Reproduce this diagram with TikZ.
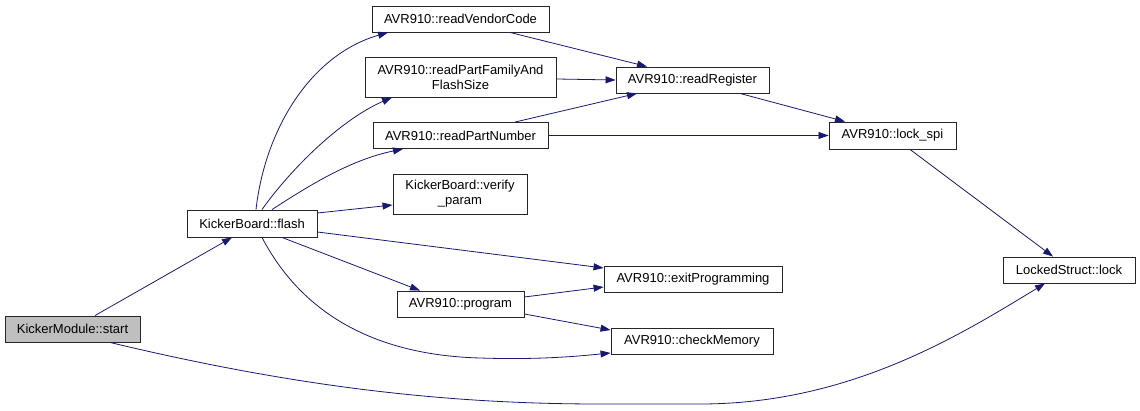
\documentclass[tikz,border=0pt]{standalone}
\usepackage{fontspec}
\setmainfont{Liberation Sans}
\usepackage{xcolor}
\definecolor{edgeblue}{RGB}{25,25,112}
\definecolor{rootgray}{RGB}{191,191,191}
\usetikzlibrary{arrows.meta,positioning,calc}

\begin{document}
\begin{tikzpicture}[x=1pt,y=-1pt,
  fnbox/.style={draw=black!85,fill=white,line width=0.9pt,inner sep=0pt,
        minimum height=26,align=center,
        font=\fontsize{13}{15}\selectfont},
  rootbox/.style={fnbox,fill=rootgray},
  callarrow/.style={-{Triangle[length=10pt,width=7pt]},edgeblue,line width=0.8pt}]
  \useasboundingbox (0,0) rectangle (1140,411);

  %% Function boxes (call graph, left to right)
  \node[rootbox,minimum width=135] (start) at (72.5,329) {KickerModule::start};
  \node[fnbox,minimum width=130,minimum height=27] (flash) at (252,223.5) {KickerBoard::flash};
  \node[fnbox,minimum width=177] (vendor) at (460.5,19) {AVR910::readVendorCode};
  \node[fnbox,minimum width=191,minimum height=40] (family) at (460.5,77)
        {AVR910::readPartFamilyAnd\\FlashSize};
  \node[fnbox,minimum width=175] (partno) at (460.5,135.5) {AVR910::readPartNumber};
  \node[fnbox,minimum width=134,minimum height=40] (verify) at (460,194)
        {KickerBoard::verify\\\_param};
  \node[fnbox,minimum width=127] (program) at (460.5,304) {AVR910::program};
  \node[fnbox,minimum width=153] (readreg) at (692.5,80) {AVR910::readRegister};
  \node[fnbox,minimum width=178] (exitprog) at (693,279.5) {AVR910::exitProgramming};
  \node[fnbox,minimum width=162] (checkmem) at (692,341) {AVR910::checkMemory};
  \node[fnbox,minimum width=127,minimum height=27] (lockspi) at (892.5,135.5) {AVR910::lock\_spi};
  \node[fnbox,minimum width=132] (lock) at (1069,270) {LockedStruct::lock};

  %% Calls from KickerModule::start
  \draw[callarrow] ($(start.north)+(22.5,0)$) -- ($(flash.south)+(-20,0)$);
  \draw[callarrow] ($(start.south)+(37.5,0)$)
        .. controls (300,388) and (450,404) .. (600,404) -- (700,404)
        .. controls (850,404) and (960,335) .. ($(lock.south)+(-24,0)$);

  %% Calls from KickerBoard::flash
  \draw[callarrow] ($(flash.north)+(4,0)$)
        .. controls (265,130) and (310,55) .. ($(vendor.south)+(-72.5,0)$);
  \draw[callarrow] ($(flash.north)+(10,0)$)
        .. controls (290,170) and (340,120) .. ($(family.south)+(-68.5,0)$);
  \draw[callarrow] ($(flash.north)+(20,0)$)
        .. controls (310,185) and (350,160) .. ($(partno.south)+(-57.5,0)$);
  \draw[callarrow] ($(flash.east)+(0,-10.5)$) -- ($(verify.west)+(0,11)$);
  \draw[callarrow] ($(flash.east)+(0,8.5)$) -- ($(exitprog.west)+(0,-11.5)$);
  \draw[callarrow] ($(flash.south)+(30,0)$) -- ($(program.north)+(-40.5,0)$);
  \draw[callarrow] ($(flash.south)+(10,0)$)
        .. controls (300,310) and (370,355) .. (480,358)
        .. controls (540,360) and (580,356) .. ($(checkmem.west)+(0,12)$);

  %% Calls from AVR910::program
  \draw[callarrow] ($(program.east)+(0,-7)$) -- ($(exitprog.west)+(0,7.5)$);
  \draw[callarrow] ($(program.east)+(0,10)$) -- ($(checkmem.west)+(0,-11)$);

  %% Register reads and SPI locking
  \draw[callarrow] ($(vendor.south)+(49.5,0)$) -- ($(readreg.north)+(-45.5,0)$);
  \draw[callarrow] ($(family.east)+(0,2)$) -- (readreg.west);
  \draw[callarrow] ($(partno.north)+(54.5,0)$) -- ($(readreg.south)+(-55.5,0)$);
  \draw[callarrow] (partno.east) -- (lockspi.west);
  \draw[callarrow] ($(readreg.south)+(47.5,0)$) -- ($(lockspi.north)+(-47.5,0)$);
  \draw[callarrow] ($(lockspi.south)+(17.5,0)$) -- ($(lock.north)+(-16,0)$);
\end{tikzpicture}
\end{document}
